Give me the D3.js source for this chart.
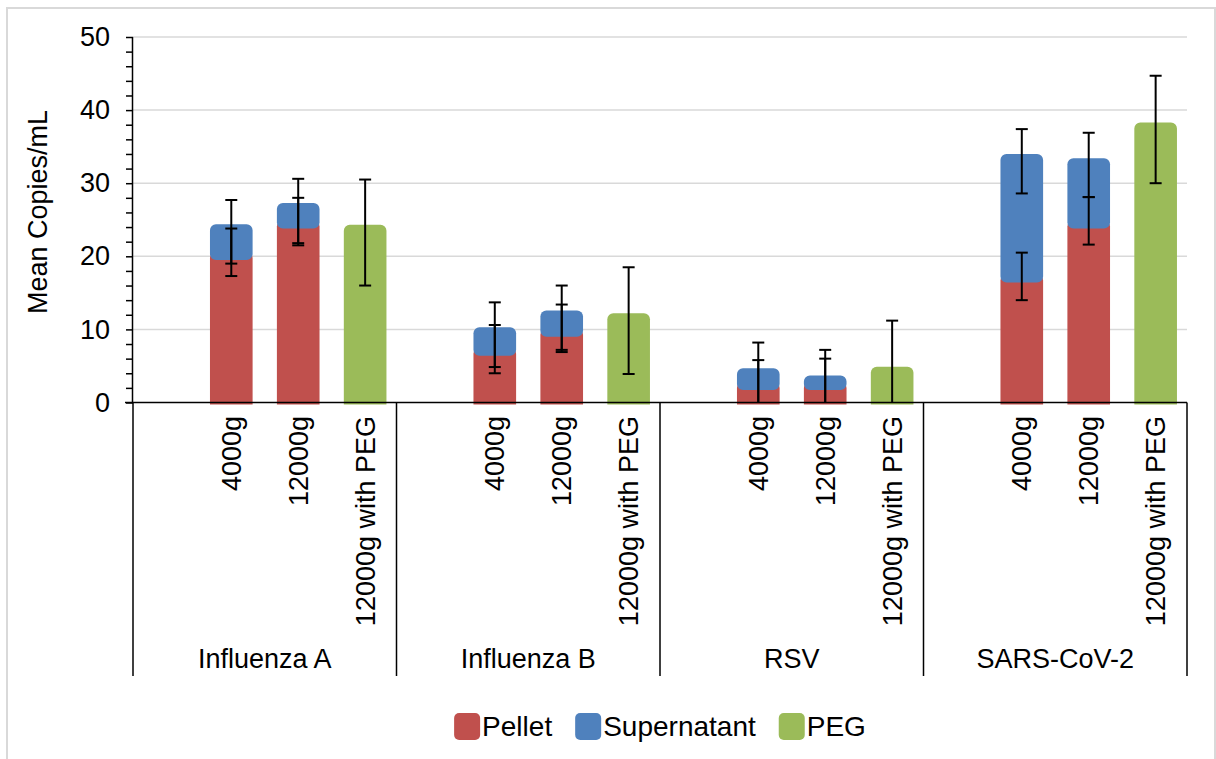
<!DOCTYPE html>
<html>
<head>
<meta charset="utf-8">
<script src="https://cdn.jsdelivr.net/npm/d3@7"></script>
<style>
  body { margin: 0; background: #fff; }
  svg { display: block; font-family: "Liberation Sans", Arial, sans-serif; }
</style>
</head>
<body>
<svg id="grafico" width="1216" height="759"></svg>
<script>
// dados
const grupos   = ["Influenza A", "Influenza B", "RSV", "SARS-CoV-2"];
const metodos  = ["4000g", "12000g", "12000g with PEG"];

// um valor por barra (grupo x método); 0 = sem barra
const pellet      = [19.5, 23.8, 0,   6.4, 9.0, 0,   1.7, 1.7, 0,   16.4, 23.8, 0];
const supernatant = [4.9,  3.5,  0,   3.9, 3.6, 0,   3.0, 2.0, 0,   17.6, 9.6,  0];
const peg         = [0,    0,    24.3, 0,  0,   12.2, 0,  0,   4.9,  0,    0,    38.3];

// barras de erro (mínimo / máximo)
const pellet_lo = [17.3, 21.5, 0,  4.0,  6.9,  0,  0,   0,   0,  14.0, 21.6, 0];
const pellet_hi = [23.8, 28.0, 0,  10.6, 13.4, 0,  5.8, 6.0, 0,  20.5, 28.1, 0];
const super_lo  = [19.0, 21.8, 0,  4.85, 7.2,  0,  0,   0,   0,  28.6, 28.1, 0];
const super_hi  = [27.7, 30.6, 0,  13.7, 16.0, 0,  8.2, 7.2, 0,  37.4, 36.9, 0];
const peg_lo    = [0, 0, 16.0,  0, 0, 3.9,  0, 0, 0,     0, 0, 30.0];
const peg_hi    = [0, 0, 30.5,  0, 0, 18.5, 0, 0, 11.2,  0, 0, 44.7];

const y_ticks = [0, 10, 20, 30, 40, 50];

const CORES = { pellet: "#c0504d", supernatant: "#4f81bd", peg: "#9bbb59" };
const FONTE = 27;

const $svg = d3.select("#grafico");

// moldura externa do gráfico
$svg.append("rect")
    .attr("x", 7).attr("y", 8)
    .attr("width", 1208).attr("height", 770)
    .attr("fill", "none")
    .attr("stroke", "#d9d9d9")
    .attr("stroke-width", 2);

const X0 = 133, X1 = 1187, Y_TOP = 37, Y_BASE = 402.5;

const scale_GRUPO = d3.scaleBand()
    .domain(grupos)
    .range([X0, X1]);

// primeira posição de cada grupo fica vazia
const scale_METODO = d3.scaleBand()
    .domain(["", ...metodos])
    .range([0, scale_GRUPO.bandwidth()])
    .paddingInner(0.363)
    .paddingOuter(0.15);

const scale_Y = d3.scaleLinear()
    .domain([0, 50])
    .range([Y_BASE, Y_TOP]);

// grade
$svg.append("g")
    .selectAll("line")
    .data(y_ticks.filter(d => d > 0))
    .join("line")
    .attr("x1", X0).attr("x2", X1)
    .attr("y1", d => scale_Y(d)).attr("y2", d => scale_Y(d))
    .attr("stroke", "#d9d9d9")
    .attr("stroke-width", 1.5);

// lista de barras
const barras = [];
grupos.forEach((g, gi) => {
    metodos.forEach((m, mi) => {
        const i = gi * 3 + mi;
        barras.push({
            grupo: g, metodo: m,
            x: scale_GRUPO(g) + scale_METODO(m),
            pellet: pellet[i], supernatant: supernatant[i], peg: peg[i],
            erros: [
                [pellet_lo[i], pellet_hi[i], pellet[i] > 0],
                [super_lo[i], super_hi[i], supernatant[i] > 0],
                [peg_lo[i], peg_hi[i], peg[i] > 0]
            ]
        });
    });
});

const w_barra = scale_METODO.bandwidth();
const R = 6;

// caminho de barra com cantos arredondados em cima (e opcionalmente embaixo)
function caminho_barra(x, yb, yt, w, r, arred_baixo) {
    const p = d3.path();
    p.moveTo(x, yt + r);
    p.arcTo(x, yt, x + r, yt, r);
    p.lineTo(x + w - r, yt);
    p.arcTo(x + w, yt, x + w, yt + r, r);
    if (arred_baixo) {
        p.lineTo(x + w, yb - r);
        p.arcTo(x + w, yb, x + w - r, yb, r);
        p.lineTo(x + r, yb);
        p.arcTo(x, yb, x, yb - r, r);
    } else {
        p.lineTo(x + w, yb);
        p.lineTo(x, yb);
    }
    p.closePath();
    return p.toString();
}

const $barras = $svg.append("g");

// pellet (o topo fica por baixo do supernatant para preencher os cantos)
$barras.selectAll("path.pellet")
    .data(barras.filter(d => d.pellet > 0))
    .join("path")
    .attr("class", "pellet")
    .attr("d", d => caminho_barra(d.x, scale_Y(0) + 2,
        scale_Y(d.pellet) - (d.supernatant > 0 ? R + 2 : 0), w_barra, R, false))
    .attr("fill", CORES.pellet);

// supernatant empilhado
$barras.selectAll("path.super")
    .data(barras.filter(d => d.supernatant > 0))
    .join("path")
    .attr("class", "super")
    .attr("d", d => caminho_barra(d.x, scale_Y(d.pellet), scale_Y(d.pellet + d.supernatant), w_barra, R, true))
    .attr("fill", CORES.supernatant);

// PEG
$barras.selectAll("path.peg")
    .data(barras.filter(d => d.peg > 0))
    .join("path")
    .attr("class", "peg")
    .attr("d", d => caminho_barra(d.x, scale_Y(0) + 2, scale_Y(d.peg), w_barra, R, false))
    .attr("fill", CORES.peg);

// barras de erro
const erros = [];
barras.forEach(b => b.erros.forEach(e => {
    if (e[2]) erros.push({ cx: b.x + w_barra / 2, lo: e[0], hi: e[1] });
}));

const $erros = $svg.append("g")
    .attr("stroke", "#000")
    .attr("stroke-width", 2);

$erros.selectAll("line.v")
    .data(erros)
    .join("line")
    .attr("class", "v")
    .attr("x1", d => d.cx).attr("x2", d => d.cx)
    .attr("y1", d => scale_Y(d.lo)).attr("y2", d => scale_Y(d.hi));

const caps = [];
erros.forEach(e => {
    if (e.lo > 0) caps.push({ cx: e.cx, v: e.lo });
    caps.push({ cx: e.cx, v: e.hi });
});

$erros.selectAll("line.cap")
    .data(caps)
    .join("line")
    .attr("class", "cap")
    .attr("x1", d => d.cx - 6).attr("x2", d => d.cx + 6)
    .attr("y1", d => scale_Y(d.v)).attr("y2", d => scale_Y(d.v));

// eixo Y com marcas menores a cada 2
const eixo_y = d3.axisLeft(scale_Y)
    .tickValues(d3.range(0, 51, 2))
    .tickSize(7)
    .tickFormat(d => y_ticks.includes(d) ? d : "");

const $eixo_y = $svg.append("g")
    .attr("transform", `translate(${X0},0)`)
    .call(eixo_y);

$eixo_y.select(".domain").attr("stroke", "#000").attr("stroke-width", 1.5).attr("d", `M-0.5,${Y_BASE}V${Y_TOP}`);
$eixo_y.selectAll(".tick line").attr("stroke", "#000").attr("stroke-width", 1.5);
$eixo_y.selectAll(".tick text")
    .attr("x", -23)
    .attr("font-size", FONTE)
    .attr("font-family", "Liberation Sans, Arial, sans-serif")
    .attr("fill", "#000");

// título do eixo Y
$svg.append("text")
    .attr("transform", `translate(47,212) rotate(-90)`)
    .attr("text-anchor", "middle")
    .attr("font-size", FONTE)
    .text("Mean Copies/mL");

// eixo X: linha base e separadores de grupo
$svg.append("line")
    .attr("x1", X0 - 8).attr("x2", X1)
    .attr("y1", Y_BASE).attr("y2", Y_BASE)
    .attr("stroke", "#000").attr("stroke-width", 1.5);

const separadores = grupos.map(g => scale_GRUPO(g)).concat([X1]);
$svg.append("g")
    .selectAll("line")
    .data(separadores)
    .join("line")
    .attr("x1", d => d).attr("x2", d => d)
    .attr("y1", Y_BASE).attr("y2", 676)
    .attr("stroke", "#000").attr("stroke-width", 1.5);

// rótulos dos métodos (girados)
$svg.append("g")
    .selectAll("text")
    .data(barras)
    .join("text")
    .attr("transform", d => `translate(${d.x + w_barra / 2},416) rotate(-90)`)
    .attr("text-anchor", "end")
    .attr("dy", "0.35em")
    .attr("font-size", FONTE)
    .text(d => d.metodo);

// rótulos dos grupos
$svg.append("g")
    .selectAll("text")
    .data(grupos)
    .join("text")
    .attr("x", d => scale_GRUPO(d) + scale_GRUPO.bandwidth() / 2)
    .attr("y", 668)
    .attr("text-anchor", "middle")
    .attr("font-size", FONTE)
    .text(d => d);

// legenda
const legenda = [
    { nome: "Pellet", cor: CORES.pellet },
    { nome: "Supernatant", cor: CORES.supernatant },
    { nome: "PEG", cor: CORES.peg }
];
const $leg = $svg.append("g");
let pos_x = 0;
legenda.forEach(item => {
    $leg.append("rect")
        .attr("x", pos_x).attr("y", 713)
        .attr("width", 26).attr("height", 27)
        .attr("rx", 5)
        .attr("fill", item.cor);
    const t = $leg.append("text")
        .attr("x", pos_x + 28).attr("y", 736)
        .attr("font-size", 28)
        .text(item.nome);
    pos_x += 28 + t.node().getComputedTextLength() + 23;
});
const largura_leg = pos_x - 23;
$leg.attr("transform", `translate(${(X0 + X1) / 2 - largura_leg / 2},0)`);
</script>
</body>
</html>
